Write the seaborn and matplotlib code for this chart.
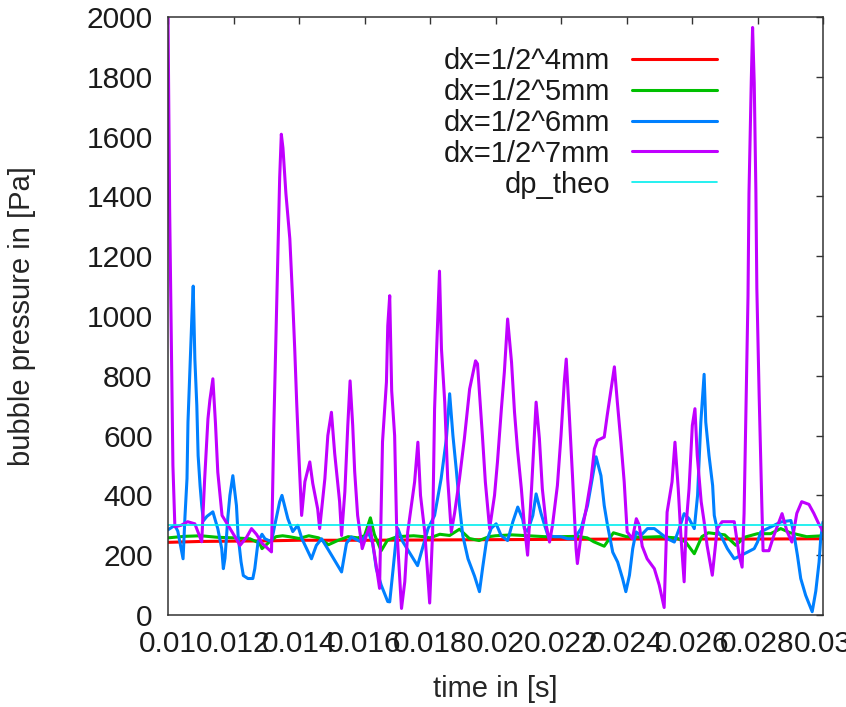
import matplotlib
matplotlib.use("Agg")
import matplotlib.pyplot as plt
import seaborn as sns
import pandas as pd

# ---- data: bubble pressure over time for four grid resolutions ----
red_t = [0.010, 0.011, 0.012, 0.013, 0.014, 0.016, 0.018, 0.020, 0.022, 0.024,
         0.026, 0.028, 0.030]
red_p = [243, 246, 247, 248, 250, 250, 251, 252, 253, 254, 254, 254, 255]

green_t = [0.0100, 0.0105, 0.0110, 0.0115, 0.0120, 0.0125, 0.0128, 0.01287, 0.0131, 0.0133,
           0.0135, 0.0137, 0.0140, 0.0143, 0.0146, 0.0149, 0.0152, 0.0155, 0.0158, 0.0160,
           0.01618, 0.0163, 0.01651, 0.0167, 0.0170, 0.0175, 0.0178, 0.0180, 0.0183, 0.0186,
           0.0189, 0.0192, 0.0195, 0.0198, 0.0200, 0.0205, 0.0210, 0.0215, 0.0220, 0.0225,
           0.0228, 0.0230, 0.02332, 0.0236, 0.0240, 0.0245, 0.0250, 0.0255, 0.0258, 0.02607,
           0.0263, 0.0265, 0.0270, 0.02734, 0.0276, 0.0280, 0.0284, 0.02871, 0.0290, 0.0295,
           0.0300]
green_p = [258, 263, 265, 260, 258, 255, 240, 222, 245, 262,
           265, 262, 256, 265, 258, 235, 250, 262, 258, 265,
           325, 270, 215, 250, 262, 265, 262, 258, 270, 266,
           287, 256, 249, 262, 265, 268, 265, 262, 262, 263,
           258, 245, 230, 275, 262, 260, 262, 258, 245, 205,
           262, 275, 268, 233, 260, 272, 272, 289, 275, 262,
           265]

blue_t = [0.01000, 0.01021, 0.01030, 0.01046, 0.01052, 0.01058, 0.01061, 0.01067, 0.01073, 0.01077,
          0.01082, 0.01088, 0.01092, 0.01098, 0.01103, 0.01108, 0.01119, 0.01137, 0.01152, 0.01164,
          0.01169, 0.01174, 0.01183, 0.01189, 0.01198, 0.01209, 0.01214, 0.01223, 0.01230, 0.01244,
          0.01259, 0.01265, 0.01275, 0.01287, 0.01296, 0.01316, 0.01326, 0.01341, 0.01348, 0.01366,
          0.01381, 0.01396, 0.01409, 0.01438, 0.01453, 0.01469, 0.01494, 0.01530, 0.01545, 0.01560,
          0.01590, 0.01611, 0.01625, 0.01636, 0.01651, 0.01671, 0.01677, 0.01687, 0.01697, 0.01702,
          0.01717, 0.01762, 0.01794, 0.01814, 0.01834, 0.01850, 0.01860, 0.01870, 0.01880, 0.01890,
          0.01900, 0.01916, 0.01936, 0.01951, 0.01961, 0.01972, 0.01987, 0.02002, 0.02017, 0.02037,
          0.02053, 0.02068, 0.02083, 0.02088, 0.02098, 0.02114, 0.02124, 0.02139, 0.02150, 0.02160,
          0.02180, 0.02200, 0.02220, 0.02241, 0.02261, 0.02281, 0.02297, 0.02307, 0.02322, 0.02332,
          0.02342, 0.02358, 0.02373, 0.02388, 0.02398, 0.02409, 0.02419, 0.02429, 0.02444, 0.02464,
          0.02485, 0.02505, 0.02525, 0.02546, 0.02561, 0.02576, 0.02591, 0.02607, 0.02617, 0.02627,
          0.02637, 0.02642, 0.02652, 0.02663, 0.02668, 0.02678, 0.02688, 0.02708, 0.02729, 0.02749,
          0.02769, 0.02790, 0.02800, 0.02810, 0.02830, 0.02851, 0.02871, 0.02902, 0.02912, 0.02922,
          0.02932, 0.02947, 0.02967, 0.02978, 0.02988, 0.02993, 0.03000]
blue_p = [285, 300, 280, 188, 333, 456, 645, 823, 1000, 1100,
          856, 700, 533, 432, 366, 315, 330, 345, 289, 222,
          155, 190, 330, 400, 466, 366, 266, 178, 132, 122,
          122, 155, 245, 270, 255, 245, 300, 379, 400, 322,
          279, 300, 255, 188, 233, 255, 210, 144, 240, 261,
          244, 278, 240, 155, 100, 45, 44, 150, 260, 289,
          245, 165, 289, 333, 456, 589, 740, 600, 489, 366,
          266, 188, 130, 78, 160, 244, 290, 305, 266, 249,
          312, 361, 320, 289, 280, 333, 405, 340, 300, 266,
          262, 262, 255, 255, 289, 366, 466, 529, 466, 366,
          300, 210, 177, 122, 78, 133, 222, 278, 266, 289,
          289, 272, 255, 244, 289, 339, 322, 289, 400, 645,
          805, 645, 533, 433, 333, 280, 266, 222, 188, 199,
          210, 222, 244, 278, 289, 300, 311, 316, 266, 199,
          122, 66, 11, 80, 177, 255, 311]

purple_t = [0.01000, 0.01005, 0.01010, 0.01015, 0.01021, 0.01040, 0.01060, 0.01082, 0.01103, 0.01112,
            0.01122, 0.01128, 0.01137, 0.01145, 0.01152, 0.01165, 0.01189, 0.01220, 0.01240, 0.01255,
            0.01270, 0.01287, 0.01316, 0.01323, 0.01329, 0.01335, 0.01341, 0.01346, 0.01351, 0.01360,
            0.01372, 0.01381, 0.01387, 0.01393, 0.01399, 0.01408, 0.01418, 0.01433, 0.01442, 0.01457,
            0.01463, 0.01479, 0.01488, 0.01499, 0.01509, 0.01524, 0.01530, 0.01540, 0.01549, 0.01556,
            0.01564, 0.01570, 0.01579, 0.01593, 0.01616, 0.01631, 0.01646, 0.01655, 0.01667, 0.01671,
            0.01677, 0.01683, 0.01692, 0.01698, 0.01713, 0.01723, 0.01732, 0.01753, 0.01763, 0.01771,
            0.01784, 0.01799, 0.01808, 0.01814, 0.01820, 0.01829, 0.01835, 0.01845, 0.01854, 0.01865,
            0.01875, 0.01890, 0.01905, 0.01921, 0.01939, 0.01945, 0.01960, 0.01969, 0.01982, 0.01997,
            0.02006, 0.02018, 0.02027, 0.02037, 0.02049, 0.02058, 0.02067, 0.02079, 0.02088, 0.02098,
            0.02110, 0.02124, 0.02134, 0.02143, 0.02155, 0.02165, 0.02174, 0.02189, 0.02200, 0.02210,
            0.02216, 0.02226, 0.02235, 0.02246, 0.02250, 0.02261, 0.02277, 0.02292, 0.02302, 0.02311,
            0.02332, 0.02341, 0.02353, 0.02363, 0.02372, 0.02383, 0.02393, 0.02402, 0.02418, 0.02430,
            0.02439, 0.02448, 0.02463, 0.02485, 0.02500, 0.02515, 0.02524, 0.02539, 0.02548, 0.02558,
            0.02566, 0.02576, 0.02582, 0.02591, 0.02601, 0.02609, 0.02616, 0.02628, 0.02637, 0.02646,
            0.02662, 0.02677, 0.02692, 0.02729, 0.02744, 0.02753, 0.02759, 0.02765, 0.02771, 0.02774,
            0.02781, 0.02785, 0.02790, 0.02795, 0.02798, 0.02805, 0.02813, 0.02817, 0.02835, 0.02850,
            0.02875, 0.02890, 0.02905, 0.02920, 0.02935, 0.02957, 0.02972, 0.02987, 0.03000]
purple_p = [2010, 1360, 930, 500, 295, 300, 312, 305, 245, 456,
            656, 720, 790, 640, 478, 333, 290, 233, 260, 289,
            270, 240, 211, 623, 900, 1185, 1463, 1608, 1562, 1410,
            1258, 1046, 888, 709, 550, 333, 446, 512, 440, 355,
            289, 456, 600, 678, 540, 379, 266, 412, 634, 783,
            634, 480, 333, 222, 300, 200, 89, 579, 779, 967,
            1068, 750, 600, 300, 22, 111, 278, 445, 578, 400,
            278, 40, 278, 690, 880, 1150, 890, 712, 456, 278,
            340, 456, 590, 756, 850, 840, 600, 445, 289, 400,
            512, 690, 812, 990, 845, 679, 556, 422, 300, 200,
            422, 712, 590, 422, 300, 244, 300, 433, 600, 779,
            856, 656, 467, 222, 172, 266, 356, 456, 556, 584,
            595, 667, 756, 830, 712, 578, 445, 278, 255, 322,
            300, 230, 188, 155, 100, 25, 344, 445, 578, 422,
            266, 111, 300, 422, 634, 690, 534, 379, 312, 233,
            133, 289, 312, 312, 200, 160, 339, 696, 1066, 1410,
            1787, 1965, 1780, 1423, 1093, 736, 378, 215, 215, 266,
            339, 280, 244, 340, 379, 370, 340, 305, 280]

theo_t = [0.010, 0.030]
theo_p = [300, 300]

series_labels = ["dx=1/2^4mm", "dx=1/2^5mm", "dx=1/2^6mm", "dx=1/2^7mm", "dp_theo"]
series_colors = ["#ff0000", "#00c000", "#0080ff", "#c000ff", "#00eeee"]

x_ticks = [0.010, 0.012, 0.014, 0.016, 0.018, 0.020, 0.022, 0.024, 0.026, 0.028, 0.030]
x_tick_labels = ["0.01", "0.012", "0.014", "0.016", "0.018", "0.02",
                 "0.022", "0.024", "0.026", "0.028", "0.03"]
y_ticks = [0, 200, 400, 600, 800, 1000, 1200, 1400, 1600, 1800, 2000]
y_tick_labels = [str(v) for v in y_ticks]

# ---- styling ----
sns.set_style("white")
plt.rcParams["font.family"] = ["Liberation Sans", "DejaVu Sans"]
plt.rcParams["font.size"] = 21
plt.rcParams["text.color"] = "#1a1a1a"

fig = plt.figure(figsize=(8.46, 7.07), dpi=100)
ax = fig.add_axes([168 / 846, 1 - 615 / 707, 655 / 846, 598 / 707])

series = [(red_t, red_p), (green_t, green_p), (blue_t, blue_p),
          (purple_t, purple_p), (theo_t, theo_p)]
widths = [2.2, 2.2, 2.2, 2.2, 1.2]
for (t, p), lab, col, lw in zip(series, series_labels, series_colors, widths):
    df = pd.DataFrame({"time": t, "pressure": p})
    sns.lineplot(data=df, x="time", y="pressure", ax=ax, color=col, lw=lw,
                 label=lab, estimator=None, sort=False)

ax.set_xlim(0.010, 0.030)
ax.set_ylim(0, 2000)
ax.set_xticks(x_ticks)
ax.set_xticklabels(x_tick_labels)
ax.set_yticks(y_ticks)
ax.set_yticklabels(y_tick_labels)

ax.tick_params(axis="both", which="major", direction="in", length=5, width=1,
               color="#333333", labelsize=21.5, labelcolor="#1a1a1a",
               top=True, right=True)
ax.tick_params(axis="y", pad=11)
ax.tick_params(axis="x", pad=11)
for s in ax.spines.values():
    s.set_color("#333333")
    s.set_linewidth(1.1)

ax.set_xlabel("time in [s]", fontsize=21, labelpad=12)
ax.set_ylabel("bubble pressure in [Pa]", fontsize=21, labelpad=36)

ax.legend(loc="upper right", bbox_to_anchor=(0.838, 0.95), frameon=False,
          markerfirst=False, borderpad=0, borderaxespad=0, handlelength=2.9,
          handletextpad=0.75, labelspacing=0.1, fontsize=21)

fig.savefig("out.png", dpi=100)
